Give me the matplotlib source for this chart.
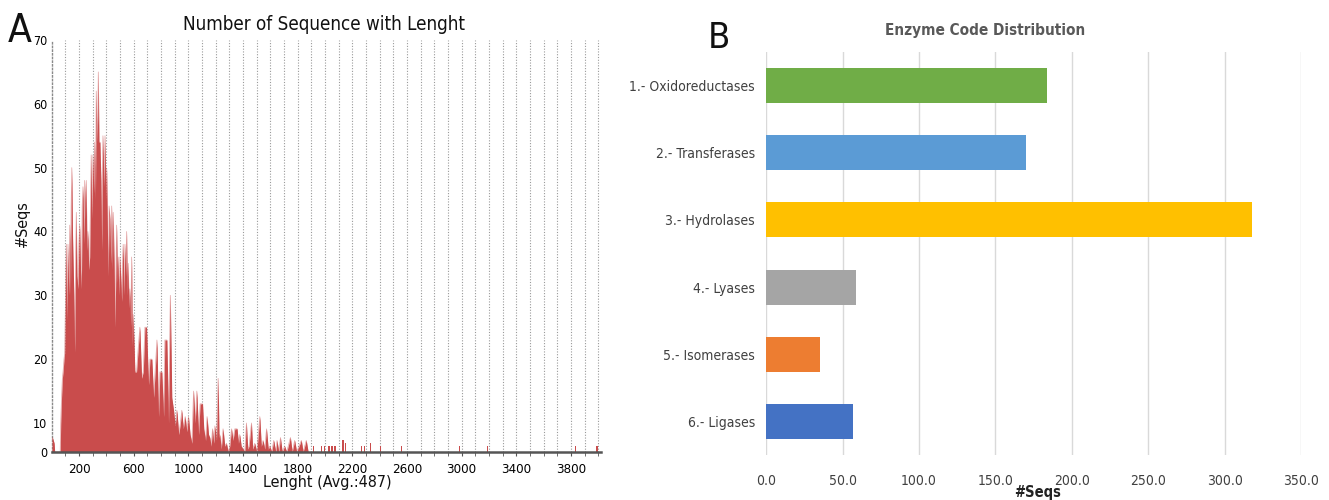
import numpy as np
import matplotlib
matplotlib.use('Agg')
import matplotlib.pyplot as plt
from matplotlib import font_manager

# narrow face for all labels: DejaVu Sans Condensed if present, else Liberation Sans
_cond = font_manager.findfont(font_manager.FontProperties(family='DejaVu Sans', stretch='condensed'))
if 'Condensed' in _cond:
    plt.rcParams['font.family'] = ['DejaVu Sans']
    plt.rcParams['font.stretch'] = 'condensed'
    NARROW = 1.0
else:
    plt.rcParams['font.family'] = ['Liberation Sans', 'DejaVu Sans']
    NARROW = 0.92

# sequence length histogram, dense part (outline of peaks and dips)
seq_len = [3, 5, 12, 18, 22, 62, 66, 72, 78, 83, 90, 95, 101, 107, 112, 119, 125, 132, 137, 142,
           147, 152, 156, 162, 168, 174, 180, 185, 192, 199, 205, 211, 217, 223, 229, 236, 241, 247,
           253, 258, 265, 271, 278, 284, 289, 294, 302, 308, 314, 320, 326, 332, 337, 341, 346, 353,
           360, 366, 370, 375, 382, 390, 396, 402, 408, 414, 420, 426, 432, 439, 444, 450, 457, 463,
           469, 475, 481, 487, 493, 499, 505, 512, 517, 523, 529, 536, 542, 548, 554, 560, 566, 572,
           578, 585, 590, 596, 609, 621, 634, 645, 658, 670, 682, 694, 709, 719, 733, 746, 757, 770,
           782, 792, 806, 819, 828, 843, 855, 868, 879, 892, 904, 916, 930, 942, 952, 963, 977, 989,
           1001, 1013, 1026, 1038, 1050, 1062, 1075, 1086, 1104, 1113, 1126, 1137, 1148, 1157, 1167,
           1177, 1186, 1194, 1206, 1218, 1225, 1230, 1241, 1254, 1267, 1279, 1292, 1303, 1316, 1327,
           1340, 1357, 1367, 1376, 1387, 1401, 1413, 1425, 1435, 1444, 1462, 1471, 1486, 1501, 1512,
           1523, 1534, 1547, 1559, 1572, 1585, 1596, 1610, 1625, 1640, 1649, 1662, 1674, 1687, 1705,
           1720, 1747, 1760, 1778, 1793, 1827, 1840, 1863, 1877]
seq_cnt = [0, 5, 4, 3, 0, 0, 10, 14, 17, 18, 20, 21, 30, 38, 26, 38, 30, 41, 30, 44,
           50, 40, 36, 30, 21, 35, 43, 33, 31, 38, 41, 34, 31, 44, 47, 38, 48, 42,
           48, 37, 40, 34, 36, 45, 52, 42, 52, 46, 54, 45, 62, 54, 58, 65, 54, 54,
           48, 37, 50, 55, 47, 55, 45, 50, 40, 33, 44, 42, 35, 44, 34, 43, 35, 25,
           33, 41, 32, 36, 30, 36, 33, 29, 35, 38, 30, 38, 33, 40, 30, 35, 28, 31,
           25, 36, 22, 27, 18, 18, 22, 25, 17, 18, 25, 25, 16, 20, 20, 14, 18, 23,
           11, 18, 18, 11, 23, 23, 10, 30, 14, 12, 9, 12, 6, 10, 12, 8, 11, 7,
           11, 6, 3, 15, 10, 15, 6, 13, 13, 8, 4, 11, 6, 5, 2,
           8, 3, 9, 4, 17, 5, 6, 1, 8, 2, 3, 0, 2, 8, 4,
           8, 8, 3, 6, 2, 1, 0, 10, 1, 2, 10, 1, 3, 0, 6,
           11, 2, 4, 1, 8, 1, 2, 0, 4, 0, 4, 0, 5, 0, 2,
           0, 5, 0, 4, 0, 4, 0, 4, 0]

# isolated long sequences
spike_len = [1917, 1974, 1998, 2029, 2051, 2073, 2132, 2149, 2266, 2290, 2332, 2405, 2558,
             2985, 3187, 3833, 3991]
spike_cnt = [2, 2, 2, 2, 2, 2, 4, 3, 2, 2, 3, 2, 2, 2, 2, 2, 2]

len_ticks = [200, 600, 1000, 1400, 1800, 2200, 2600, 3000, 3400, 3800]
cnt_ticks = [0, 10, 20, 30, 40, 50, 60, 70]

enzymes = ['1.- Oxidoreductases', '2.- Transferases', '3.- Hydrolases',
           '4.- Lyases', '5.- Isomerases', '6.- Ligases']
enzyme_counts = [184, 170, 318, 59, 35, 57]
enzyme_colors = ['#70ad47', '#5b9bd5', '#ffc000', '#a5a5a5', '#ed7d31', '#4472c4']

W, H = 1329, 500
fig = plt.figure(figsize=(W / 100, H / 100), dpi=100)


# the count axis gives the 0-10 band less room than the others
def fwd(y):
    y = np.asarray(y, dtype=float)
    return np.where(y <= 10, y * 0.4545, y - 5.455)


def inv(u):
    u = np.asarray(u, dtype=float)
    return np.where(u <= 4.545, u / 0.4545, u + 5.455)


red = '#c94c4c'
axA = fig.add_axes([51.7 / W, 48 / H, 549.3 / W, 412 / H])
axA.set_yscale('function', functions=(fwd, inv))
axA.fill_between(seq_len, seq_cnt, 0, color=red, lw=0, zorder=3)
axA.plot(seq_len, seq_cnt, color=red, lw=0.5, alpha=0.5, zorder=3)
axA.bar(spike_len, spike_cnt, width=9, color=red, lw=0, zorder=3)
axA.set_xlim(0, 4020)
axA.set_ylim(0, 70)
axA.set_xticks(len_ticks)
axA.set_xticks(np.arange(100, 4001, 100), minor=True)
axA.set_yticks(cnt_ticks)
axA.set_yticklabels([str(v) for v in cnt_ticks])
axA.yaxis.set_minor_locator(matplotlib.ticker.NullLocator())
axA.grid(axis='x', which='both', color='#9a9a9a', linestyle=(0, (1, 1.5)), lw=0.8, zorder=0)
axA.set_axisbelow(True)
axA.tick_params(axis='x', which='both', length=3, color='#555555', labelsize=9.5 * NARROW, pad=5)
axA.tick_params(axis='y', length=0, labelsize=9 * NARROW, pad=3)
for s in ['top', 'right']:
    axA.spines[s].set_visible(False)
axA.spines['bottom'].set_color('#555555')
axA.spines['bottom'].set_linewidth(1.8)
axA.spines['bottom'].set_zorder(4)
axA.spines['left'].set_color('#8a8a8a')
axA.spines['left'].set_linestyle(':')
axA.spines['left'].set_linewidth(1.0)

fig.text(324 / W, 1 - 25 / H, 'Number of Sequence with Lenght', ha='center', va='center',
         fontsize=13.5 * NARROW, color='#111111')
fig.text(327 / W, 1 - 483 / H, 'Lenght (Avg.:487)', ha='center', va='center',
         fontsize=11.5 * NARROW, color='#111111')
fig.text(22 / W, 1 - 224 / H, '#Seqs', ha='center', va='center', rotation=90,
         fontsize=11.5 * NARROW, color='#111111')
fig.text(8 / W, 1 - 42 / H, 'A', ha='left', va='baseline', fontsize=28, color='#111111')

# enzyme classes
axB = fig.add_axes([766.1 / W, 45 / H, (1301 - 766.1) / W, 403 / H])
ypos = np.arange(len(enzymes))
axB.barh(ypos, enzyme_counts, height=0.52, color=enzyme_colors, zorder=3)
axB.set_ylim(len(enzymes) - 0.5, -0.5)
axB.set_xlim(0, 350)
axB.set_xticks(np.arange(0, 351, 50))
axB.set_xticklabels(['%.1f' % v for v in np.arange(0, 351, 50)])
axB.set_yticks(ypos)
axB.set_yticklabels(enzymes)
axB.grid(axis='x', color='#d9d9d9', lw=1.0, zorder=0)
axB.set_axisbelow(True)
axB.tick_params(length=0, labelsize=10 * NARROW, colors='#404040')
axB.tick_params(axis='x', pad=14)
axB.tick_params(axis='y', pad=8)
for s in axB.spines.values():
    s.set_visible(False)

fig.text(985 / W, 1 - 30 / H, 'Enzyme Code Distribution', ha='center', va='center',
         fontsize=11 * NARROW, fontweight='bold', color='#595959')
fig.text(1038 / W, 1 - 493 / H, '#Seqs', ha='center', va='center',
         fontsize=10.5 * NARROW, fontweight='bold', color='#222222')
fig.text(708 / W, 1 - 48 / H, 'B', ha='left', va='baseline', fontsize=26, color='#111111')

fig.savefig('out.png', dpi=100)
